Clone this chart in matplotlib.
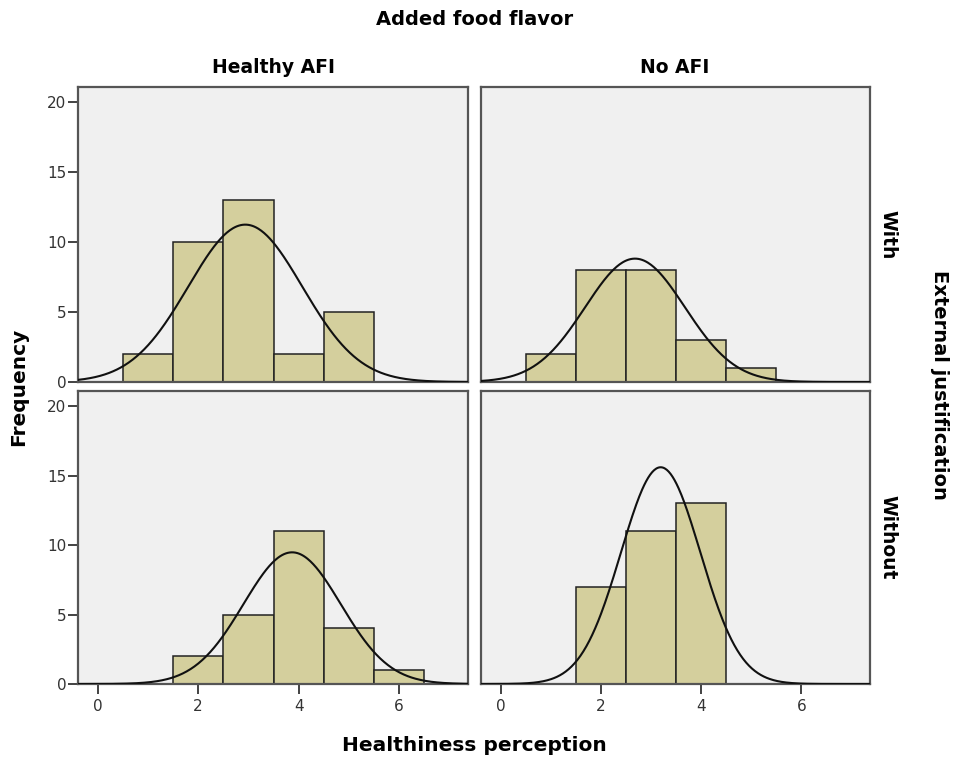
import numpy as np
import matplotlib.pyplot as plt

# Histogram counts per integer score (bin width 1, bins centered on the score)
scores_hl_with = [1, 2, 3, 4, 5]
counts_hl_with = [2, 10, 13, 2, 5]

scores_no_with = [1, 2, 3, 4, 5]
counts_no_with = [2, 8, 8, 3, 1]

scores_hl_without = [2, 3, 4, 5, 6]
counts_hl_without = [2, 5, 11, 4, 1]

scores_no_without = [2, 3, 4]
counts_no_without = [7, 11, 13]

col_labels = ["Healthy AFI", "No AFI"]
row_labels = ["With", "Without"]

panels = {
    (0, 0): (scores_hl_with, counts_hl_with),
    (0, 1): (scores_no_with, counts_no_with),
    (1, 0): (scores_hl_without, counts_hl_without),
    (1, 1): (scores_no_without, counts_no_without),
}

plt.rcParams["font.family"] = ["DejaVu Sans"]

bar_color = "#d4cf9d"
panel_bg = "#f0f0f0"
frame_color = "#555555"

fig = plt.figure(figsize=(9.55, 7.62), dpi=100)

lefts = [0.0817, 0.5037]
widths = [0.4084, 0.4073]
bottoms = [0.4987, 0.1024]
heights = [0.3871, 0.3845]

for (r, c), (scores, counts) in panels.items():
    ax = fig.add_axes([lefts[c], bottoms[r], widths[c], heights[r]])
    ax.set_facecolor(panel_bg)
    ax.bar(scores, counts, width=1.0, color=bar_color, edgecolor="#222222",
           linewidth=1.1, zorder=2)

    # normal curve fitted to the binned values
    x = np.array(scores, dtype=float)
    n = np.array(counts, dtype=float)
    total = n.sum()
    mean = (x * n).sum() / total
    sd = np.sqrt(((x - mean) ** 2 * n).sum() / (total - 1))
    xs = np.linspace(-0.4, 7.4, 400)
    ys = total / (sd * np.sqrt(2 * np.pi)) * np.exp(-0.5 * ((xs - mean) / sd) ** 2)
    ax.plot(xs, ys, color="#111111", linewidth=1.5, zorder=3)

    ax.set_xlim(-0.39, 7.37)
    ax.set_ylim(0, 21.1)
    for side in ax.spines.values():
        side.set_color(frame_color)
        side.set_linewidth(1.6)

    ax.set_yticks([0, 5, 10, 15, 20])
    ax.set_xticks([0, 2, 4, 6])
    ax.tick_params(colors="#222222", labelcolor="#333333", labelsize=11,
                   length=7, width=1.2, direction="out", pad=1.5)
    ax.tick_params(axis="x", pad=4)
    if c == 1:
        ax.tick_params(axis="y", left=False, labelleft=False)
    if r == 0:
        ax.tick_params(axis="x", bottom=False, labelbottom=False)

    if c == 1:
        ax.text(1.045, 0.5, row_labels[r], transform=ax.transAxes, rotation=-90,
                ha="center", va="center", fontsize=13.5, fontweight="bold")

fig.text(0.286, 0.912, col_labels[0], ha="center", va="center",
         fontsize=13.5, fontweight="bold")
fig.text(0.707, 0.912, col_labels[1], ha="center", va="center",
         fontsize=13.5, fontweight="bold")
fig.text(0.497, 0.974, "Added food flavor", ha="center", va="center",
         fontsize=14, fontweight="bold")
fig.text(0.497, 0.022, "Healthiness perception", ha="center", va="center",
         fontsize=14.5, fontweight="bold")
fig.text(0.02, 0.492, "Frequency", ha="center", va="center", rotation=90,
         fontsize=14.5, fontweight="bold")
fig.text(0.984, 0.495, "External justification", ha="center", va="center",
         rotation=-90, fontsize=14, fontweight="bold")

fig.savefig("out.png", dpi=100, facecolor="white")
